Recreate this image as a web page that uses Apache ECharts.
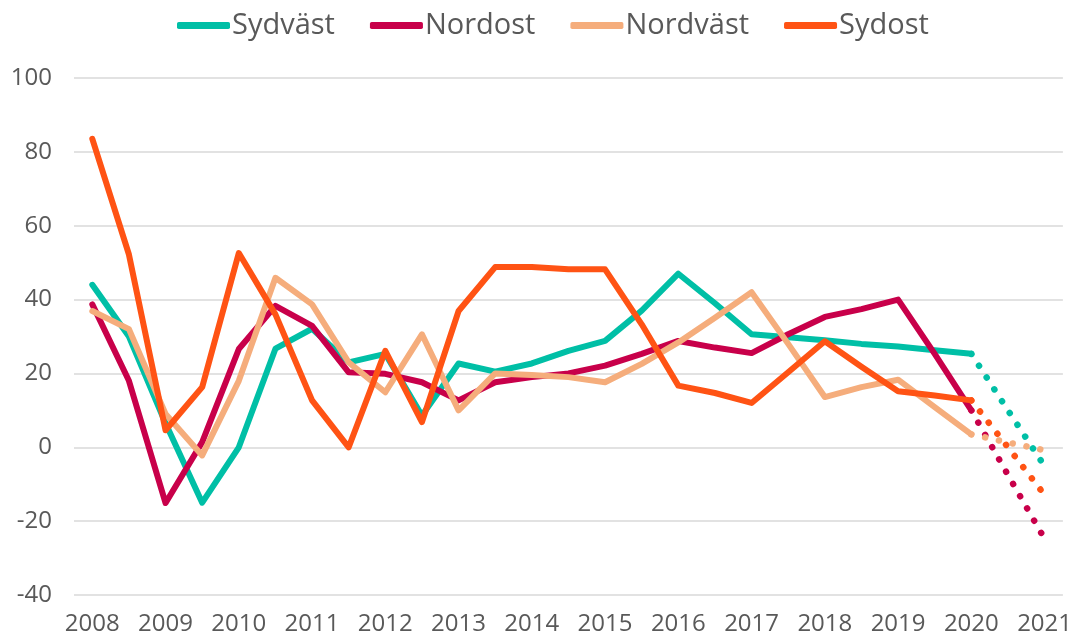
<!DOCTYPE html>
<html>
<head>
<meta charset="utf-8">
<script src="https://cdn.jsdelivr.net/npm/echarts@6/dist/echarts.min.js"></script>
<style>
  html, body { margin: 0; padding: 0; background: #fff; }
  #chart { width: 1075px; height: 637px; }
</style>
</head>
<body>
<div id="chart"></div>
<script>
// halvårsvärden 2008 - 2021, etiketter bara på helår
const categories = ['2008', '', '2009', '', '2010', '', '2011', '', '2012', '', '2013', '', '2014', '',
  '2015', '', '2016', '', '2017', '', '2018', '', '2019', '', '2020', '', '2021'];

const sydvast = [44, 30, 6.5, -15, 0, 26.7, 32.1, 23, 25.3, 8.6, 22.7, 20.5, 22.7, 26.1, 28.8, 37, 47, 39, 30.6, 29.8, 29, 28, 27.3, 26.3, 25.3];
const nordost = [38.7, 18, -15.1, 1.4, 26.6, 38.3, 32.9, 20.3, 19.9, 17.6, 12.7, 17.6, 19, 20, 22.1, 25.3, 28.8, 27, 25.5, 30.6, 35.3, 37.4, 40, 25.3, 10];
const nordvast = [36.9, 32, 9, -2.2, 18, 45.9, 38.7, 23, 14.9, 30.6, 10, 20, 19.6, 19, 17.6, 22.6, 28.4, 35.1, 42, 28, 13.6, 16.3, 18.3, 10.9, 3.5];
const sydost = [83.5, 52.2, 4.6, 16.3, 52.6, 36, 12.7, 0, 26.1, 6.8, 36.9, 48.8, 48.8, 48.2, 48.2, 33.3, 16.7, 14.7, 12, 20.3, 28.7, 21.8, 15.2, 14, 12.7];

// prognos (prickad) 2020 - 2021
const sydvastProg = [25.3, 10, -5.1];
const nordostProg = [10, -7.5, -24.8];
const nordvastProg = [3.5, 1.3, -0.8];
const sydostProg = [12.7, 0, -12.9];

const names = ['Sydväst', 'Nordost', 'Nordväst', 'Sydost'];
const colors = ['#00bfa6', '#c8004a', '#f5ad7c', '#ff5314'];

const progStart = categories.length - 3;
function padProg(arr) {
  return categories.map((c, i) => (i < progStart ? null : arr[i - progStart]));
}

const solid = [sydvast, nordost, nordvast, sydost];
const prog = [sydvastProg, nordostProg, nordvastProg, sydostProg];

const series = [];
solid.forEach((d, k) => {
  series.push({
    name: names[k],
    type: 'line',
    data: d,
    symbol: 'none',
    color: colors[k],
    lineStyle: { width: 6, color: colors[k], cap: 'round', join: 'round' }
  });
});
prog.forEach((d, k) => {
  series.push({
    name: names[k] + ' prognos',
    type: 'line',
    data: padProg(d),
    symbol: 'none',
    color: colors[k],
    lineStyle: { width: 6.5, color: colors[k], type: [0.1, 14], cap: 'round' }
  });
});

const chart = echarts.init(document.getElementById('chart'));
chart.setOption({
  animation: false,
  textStyle: { fontFamily: 'Open Sans' },
  legend: {
    data: names,
    top: 6,
    left: 172,
    itemWidth: 53,
    itemHeight: 7,
    itemGap: 35,
    icon: 'roundRect',
    textStyle: { fontSize: 29, color: '#595959', fontFamily: 'Open Sans', padding: [0, 0, 0, -3] }
  },
  grid: { left: 74, right: 11, top: 78, bottom: 42 },
  xAxis: {
    type: 'category',
    data: categories,
    boundaryGap: true,
    axisLine: { show: false },
    axisTick: { show: false },
    axisLabel: { interval: 0, fontSize: 24, color: '#595959', margin: 17 }
  },
  yAxis: {
    type: 'value',
    min: -40,
    max: 100,
    interval: 20,
    axisLine: { show: false },
    axisTick: { show: false },
    axisLabel: { fontSize: 24, color: '#595959', margin: 22 },
    splitLine: { lineStyle: { color: '#d9d9d9', width: 1.5 } }
  },
  series: series
});
</script>
</body>
</html>
